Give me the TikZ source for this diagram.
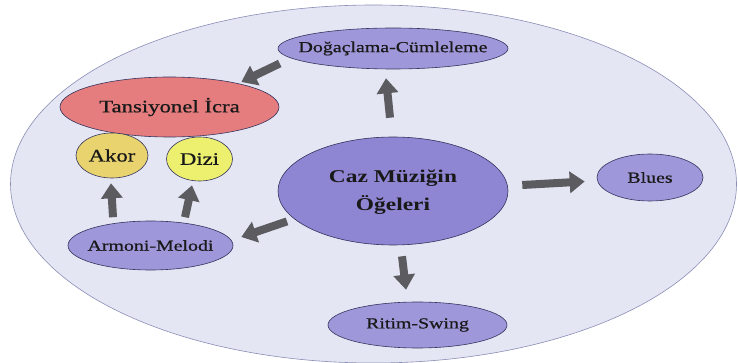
\documentclass[tikz,border=0pt]{standalone}
\usepackage{fontspec}
\setmainfont{Liberation Serif}
\newfontfamily\lbl[FakeStretch=1.3, UprightFeatures={FakeBold=0.7}]{Liberation Serif}
\usetikzlibrary{shapes.geometric,arrows.meta}
\definecolor{bgfill}{HTML}{E5E6F4}
\definecolor{bgline}{HTML}{8A8DB5}
\definecolor{purp}{HTML}{9E98DA}
\definecolor{purpdark}{HTML}{8E85D3}
\definecolor{tansc}{HTML}{E57C7E}
\definecolor{akorc}{HTML}{E8D36F}
\definecolor{dizic}{HTML}{EDF06E}
\definecolor{nodeline}{HTML}{34345E}
\definecolor{arrc}{HTML}{5B5B60}
\newcommand\zw[1]{\makebox[0pt]{#1}}
\begin{document}
\begin{tikzpicture}[x=1pt,y=-1pt,
  el/.style={ellipse, draw=nodeline, line width=0.6pt, inner sep=0pt, text=black!90},
  small/.style={font=\lbl\fontsize{15.3}{18}\selectfont},
  mid/.style={font=\lbl\fontsize{17.5}{21}\selectfont},
  arr/.style={draw=arrc, line width=8pt, -{Triangle[width=21pt,length=15pt]}, fill=arrc}]
\useasboundingbox (0,0) rectangle (738,363);
\node[ellipse, draw=bgline, fill=bgfill, line width=0.6pt, inner sep=0pt,
      minimum width=726pt, minimum height=358pt] (bg) at (373.5,184) {};
\node[el, fill=purp, small, minimum width=230pt, minimum height=41pt] (dog) at (393,48.5) {\zw{Doğaçlama-Cümleleme}};
\node[el, fill=tansc, mid, minimum width=219pt, minimum height=60pt] (tans) at (169.5,107) {\zw{Tansiyonel İcra}};
\node[el, fill=akorc, mid, minimum width=72pt, minimum height=45pt] (akor) at (112,155.5) {\zw{Akor}};
\node[el, fill=dizic, mid, minimum width=66pt, minimum height=44pt] (dizi) at (199.5,159) {\zw{Dizi}};
\node[el, fill=purp, small, minimum width=165pt, minimum height=49pt] (arm) at (150.5,245.5) {\zw{Armoni-Melodi}};
\node[el, fill=purpdark, minimum width=230pt, minimum height=108pt] (caz) at (393,191) {\zw{\lbl\bfseries\fontsize{18}{28}\selectfont\begin{tabular}{@{}c@{}}Caz Müziğin\\Öğeleri\end{tabular}}};
\node[el, fill=purp, small, minimum width=106pt, minimum height=47pt] (blues) at (650,177.5) {\zw{Blues}};
\node[el, fill=purp, small, minimum width=179pt, minimum height=46pt] (ritim) at (417.5,325) {\zw{Ritim-Swing}};
% arrows
\draw[arr] ([shift={(2,15)}]dog.west) -- ([shift={(-38,-25)}]tans.east);
\draw[arr] ([shift={(-3,-19)}]caz.north) -- ([shift={(-7,9)}]dog.south);
\draw[arr] ([shift={(14,-6)}]caz.east) -- ([shift={(-12,4)}]blues.west);
\draw[arr] ([shift={(-24.5,-8)}]caz.south west) -- ([shift={(8,-8.5)}]arm.east);
\draw[arr] ([shift={(9,11)}]caz.south) -- ([shift={(-11.5,-12)}]ritim.north);
\draw[arr] ([shift={(-37.5,-3.5)}]arm.north) -- ([shift={(-1,5)}]akor.south);
\draw[arr] ([shift={(34.5,-3.5)}]arm.north) -- ([shift={(-7.5,4)}]dizi.south);
\end{tikzpicture}
\end{document}
